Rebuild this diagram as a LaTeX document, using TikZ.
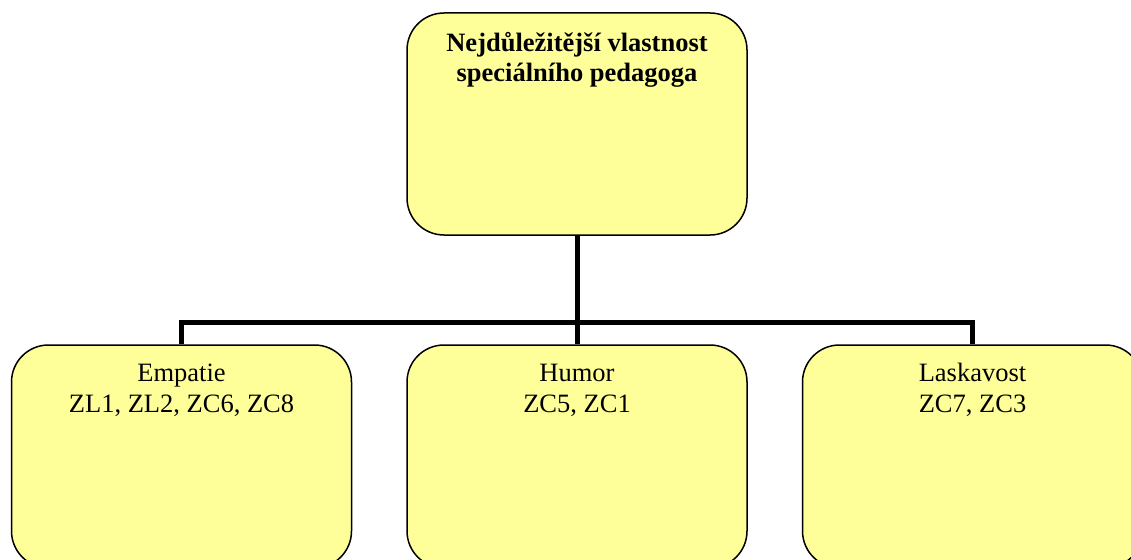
\documentclass[tikz,border=0pt]{standalone}
\usepackage{fontspec}
\setmainfont{Liberation Serif}
\definecolor{boxfill}{HTML}{FFFF99}
\tikzset{
  orgbox/.style={draw=black, line width=1.5pt, fill=boxfill, rectangle,
    rounded corners=37pt, inner sep=0pt, minimum width=340pt},
  boxtext/.style={anchor=north, inner sep=0pt, align=center, text=black,
    font=\fontsize{26.5pt}{31pt}\selectfont},
  conn/.style={draw=black, line width=5pt, line join=miter}
}
\newcommand{\firstline}{\rule{0pt}{24pt}}
\begin{document}
\begin{tikzpicture}[x=1pt, y=-1pt]
  \useasboundingbox (0,0) rectangle (1131,559);
  \clip (0,0) rectangle (1131,559);

  % connector junction below the root
  \coordinate (bus) at (577,322);

  % boxes
  \node[orgbox, minimum height=222pt,
        label={[boxtext, yshift=-15pt, font=\fontsize{26.5pt}{30pt}\selectfont\bfseries]north:\firstline Nejdůležitější vlastnost\\speciálního pedagoga}]
        (root) at (577,124) {};
  \node[orgbox, minimum height=223pt,
        label={[boxtext, yshift=-13pt]north:\firstline Empatie\\ZL1, ZL2, ZC6, ZC8}]
        (empatie) at (181.5,456.5) {};
  \node[orgbox, minimum height=223pt,
        label={[boxtext, yshift=-13pt]north:\firstline Humor\\ZC5, ZC1}]
        (humor) at (577,456.5) {};
  \node[orgbox, minimum height=223pt,
        label={[boxtext, yshift=-13pt]north:\firstline Laskavost\\ZC7, ZC3}]
        (laskavost) at (972.5,456.5) {};

  % tree connectors
  \draw[conn] (root.south) -- (bus);
  \draw[conn] (empatie.north) |- (bus) -| (laskavost.north);
  \draw[conn] (humor.north) -- (bus);
\end{tikzpicture}
\end{document}
